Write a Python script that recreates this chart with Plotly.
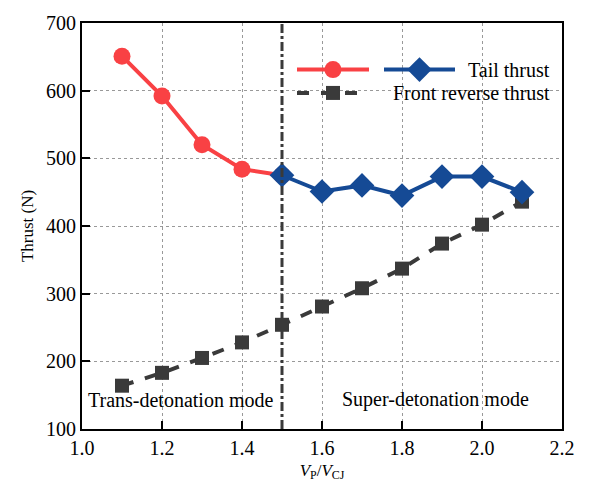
import plotly.graph_objects as go

x_trans = [1.1, 1.2, 1.3, 1.4, 1.5]
tail_trans = [651, 592, 520, 484, 475]
x_super = [1.5, 1.6, 1.7, 1.8, 1.9, 2.0, 2.1]
tail_super = [475, 451, 460, 445, 473, 473, 450]
x_front = [1.1, 1.2, 1.3, 1.4, 1.5, 1.6, 1.7, 1.8, 1.9, 2.0, 2.1]
front_rev = [164, 183, 205, 228, 254, 281, 308, 337, 374, 402, 436]

RED = "#f94144"
BLUE = "#154a95"
BLACK = "#3a3a3a"
FONT = "Liberation Serif, Times New Roman, DejaVu Serif, serif"

fig = go.Figure()
fig.add_trace(go.Scatter(x=x_front, y=front_rev, mode="lines+markers",
                         line=dict(color=BLACK, width=4, dash="dash"),
                         marker=dict(symbol="square", size=14, color=BLACK),
                         showlegend=False))
fig.add_trace(go.Scatter(x=x_trans, y=tail_trans, mode="lines+markers",
                         line=dict(color=RED, width=4),
                         marker=dict(symbol="circle", size=17, color=RED),
                         showlegend=False))
fig.add_trace(go.Scatter(x=x_super, y=tail_super, mode="lines+markers",
                         line=dict(color=BLUE, width=4),
                         marker=dict(symbol="diamond", size=19, color=BLUE),
                         showlegend=False))

fig.add_vline(x=1.5, line=dict(color=BLACK, width=3, dash="dashdot"))

# custom legend
def xd(px):
    return (px - 82) / 480.0
def yd(py):
    return 1 - (py - 16) / 418.0

for (x0, x1, c, d, sym, sz, yy) in [
    (297, 369, RED, None, "circle", 17, 64),
    (384, 455, BLUE, None, "diamond", 19, 64),
    (297, 369, BLACK, "dash", "square", 14, 88),
]:
    fig.add_trace(go.Scatter(
        x=[xd(x0), xd(x1)], y=[yd(yy), yd(yy)], xaxis="x2", yaxis="y2",
        mode="lines", line=dict(color=c, width=4, dash=d or "solid"),
        showlegend=False, hoverinfo="skip"))
    fig.add_trace(go.Scatter(
        x=[xd((x0 + x1) / 2)], y=[yd(yy)], xaxis="x2", yaxis="y2",
        mode="markers", marker=dict(symbol=sym, size=sz, color=c),
        showlegend=False, hoverinfo="skip"))

TXT = dict(family=FONT, size=20, color="black")
fig.add_annotation(x=xd(552), y=yd(64), xref="paper", yref="paper", text="Tail thrust",
                   showarrow=False, xanchor="right", yanchor="middle", font=TXT)
fig.add_annotation(x=xd(552), y=yd(88), xref="paper", yref="paper", text="Front reverse thrust",
                   showarrow=False, xanchor="right", yanchor="middle", font=TXT)
fig.add_annotation(x=xd(86), y=yd(404), xref="paper", yref="paper", text="Trans-detonation mode",
                   showarrow=False, xanchor="left", yanchor="middle", font=TXT)
fig.add_annotation(x=xd(340), y=yd(404), xref="paper", yref="paper", text="Super-detonation mode",
                   showarrow=False, xanchor="left", yanchor="middle", font=TXT)

fig.update_layout(
    width=595, height=489,
    margin=dict(l=82, r=33, t=16, b=55),
    paper_bgcolor="white", plot_bgcolor="white",
    font=dict(family=FONT, size=20, color="black"),
    xaxis=dict(range=[1.0, 2.2], tickvals=[1.0, 1.2, 1.4, 1.6, 1.8, 2.0, 2.2],
               ticktext=["1.0", "1.2", "1.4", "1.6", "1.8", "2.0", "2.2"],
               showline=True, linecolor="black", linewidth=2, mirror=True,
               ticks="inside", ticklen=8, tickwidth=2, tickcolor="black",
               showgrid=True, gridcolor="#999999", griddash="dot", gridwidth=1,
               zeroline=False, tickfont=dict(family=FONT, size=20),
               title=dict(text="<i>V</i><sub>P</sub>/<i>V</i><sub>CJ</sub>", standoff=6,
                          font=dict(family=FONT, size=17))),
    yaxis=dict(range=[100, 700], dtick=100,
               showline=True, linecolor="black", linewidth=2, mirror=True,
               ticks="inside", ticklen=8, tickwidth=2, tickcolor="black",
               showgrid=True, gridcolor="#999999", griddash="dot", gridwidth=1,
               zeroline=False, tickfont=dict(family=FONT, size=20),
               title=dict(text="Thrust (N)", standoff=8, font=dict(family=FONT, size=17))),
    xaxis2=dict(range=[0, 1], overlaying="x", visible=False),
    yaxis2=dict(range=[0, 1], overlaying="y", visible=False),
)

fig.write_html("out.html")
